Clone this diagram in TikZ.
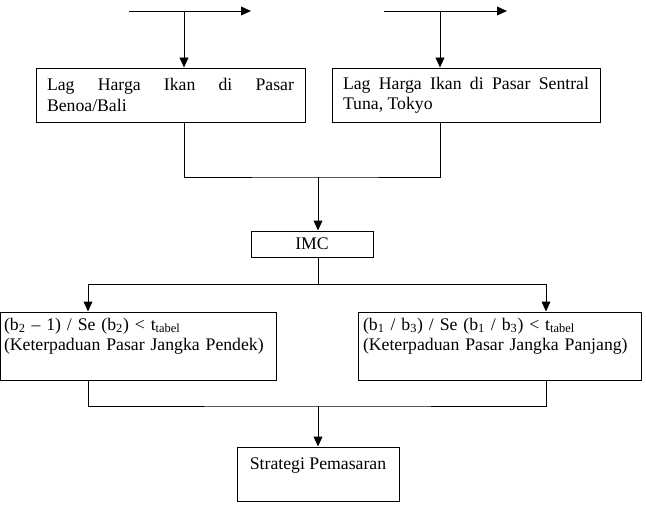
\documentclass[tikz,border=0pt]{standalone}
\usepackage{fontspec}
\setmainfont{Liberation Serif}
\usetikzlibrary{arrows.meta, positioning}

\begin{document}
\begin{tikzpicture}[font=\fontsize{12.6pt}{14.4pt}\selectfont,
    line width=0.7pt, >={Triangle[length=2.5mm, width=2.2mm]},
    box/.style={draw, rectangle, inner ysep=0.05cm},
    lagbox/.style={box, inner xsep=0.275cm, minimum height=1.35cm, align=justify},
    testbox/.style={box, align=left, text height=0.4cm, text depth=1.2cm}]
    \useasboundingbox (0,0) rectangle (16.15,-12.675);

    % input boxes
    \node[lagbox, text width=6.175cm] (benoa) at (4.2625,-2.375)
        {Lag Harga Ikan di Pasar\linebreak Benoa/Bali};
    \node[lagbox, text width=6.15cm] (tokyo) at (11.65,-2.375)
        {Lag Harga Ikan di Pasar Sentral\linebreak Tuna, Tokyo};
    \node[box, minimum width=3.05cm, minimum height=0.65cm] (imc) at (7.8,-6.1) {IMC};
    \node[testbox, inner xsep=0.1cm, text width=6.7cm] (short) at (3.45,-8.65)
        {(b\textsubscript{2} – 1) / Se (b\textsubscript{2}) < t\textsubscript{tabel}\\
         (Keterpaduan Pasar Jangka Pendek)};
    \node[testbox, inner xsep=0.125cm, text width=6.825cm] (long) at (12.4875,-8.65)
        {(b\textsubscript{1} / b\textsubscript{3}) / Se (b\textsubscript{1} / b\textsubscript{3}) < t\textsubscript{tabel}\\
         (Keterpaduan Pasar Jangka Panjang)};
    \node[box, minimum width=4.05cm, inner ysep=0.2cm, text height=0.35cm, text depth=0.6cm] (strategi) at (7.95,-11.85)
        {Strategi Pemasaran};

    % incoming lines at the top
    \coordinate (inBenoa) at (3.225,-0.275);
    \coordinate (outBenoa) at (6.275,-0.275);
    \coordinate (tapBenoa) at (4.6,-0.275);
    \coordinate (inTokyo) at (9.6,-0.275);
    \coordinate (outTokyo) at (12.675,-0.275);
    \coordinate (tapTokyo) at (11,-0.275);
    \draw[->] (inBenoa) -- (outBenoa);
    \draw[->] (inTokyo) -- (outTokyo);
    \draw[->] (tapBenoa) -- (tapBenoa |- benoa.north);
    \draw[->] (tapTokyo) -- (tapTokyo |- tokyo.north);

    % join into IMC
    \coordinate (joinTop) at (7.95,-4.425);
    \draw (benoa.south -| tapBenoa) |- (joinTop) -| (tokyo.south -| tapTokyo);
    \draw[->] (joinTop) -- (joinTop |- imc.north);

    % split to both tests
    \coordinate (split) at (7.95,-7.1);
    \coordinate (splitL) at (2.2,-7.1);
    \coordinate (splitR) at (13.65,-7.1);
    \draw (split |- imc.south) -- (split);
    \draw (splitL) -- (splitR);
    \draw[->] (splitL) -- (splitL |- short.north);
    \draw[->] (splitR) -- (splitR |- long.north);

    % join into strategy
    \coordinate (joinBot) at (7.95,-10.15);
    \draw (short.south -| splitL) |- (joinBot) -| (long.south -| splitR);
    \draw[->] (joinBot) -- (strategi.north);
\end{tikzpicture}
\end{document}
